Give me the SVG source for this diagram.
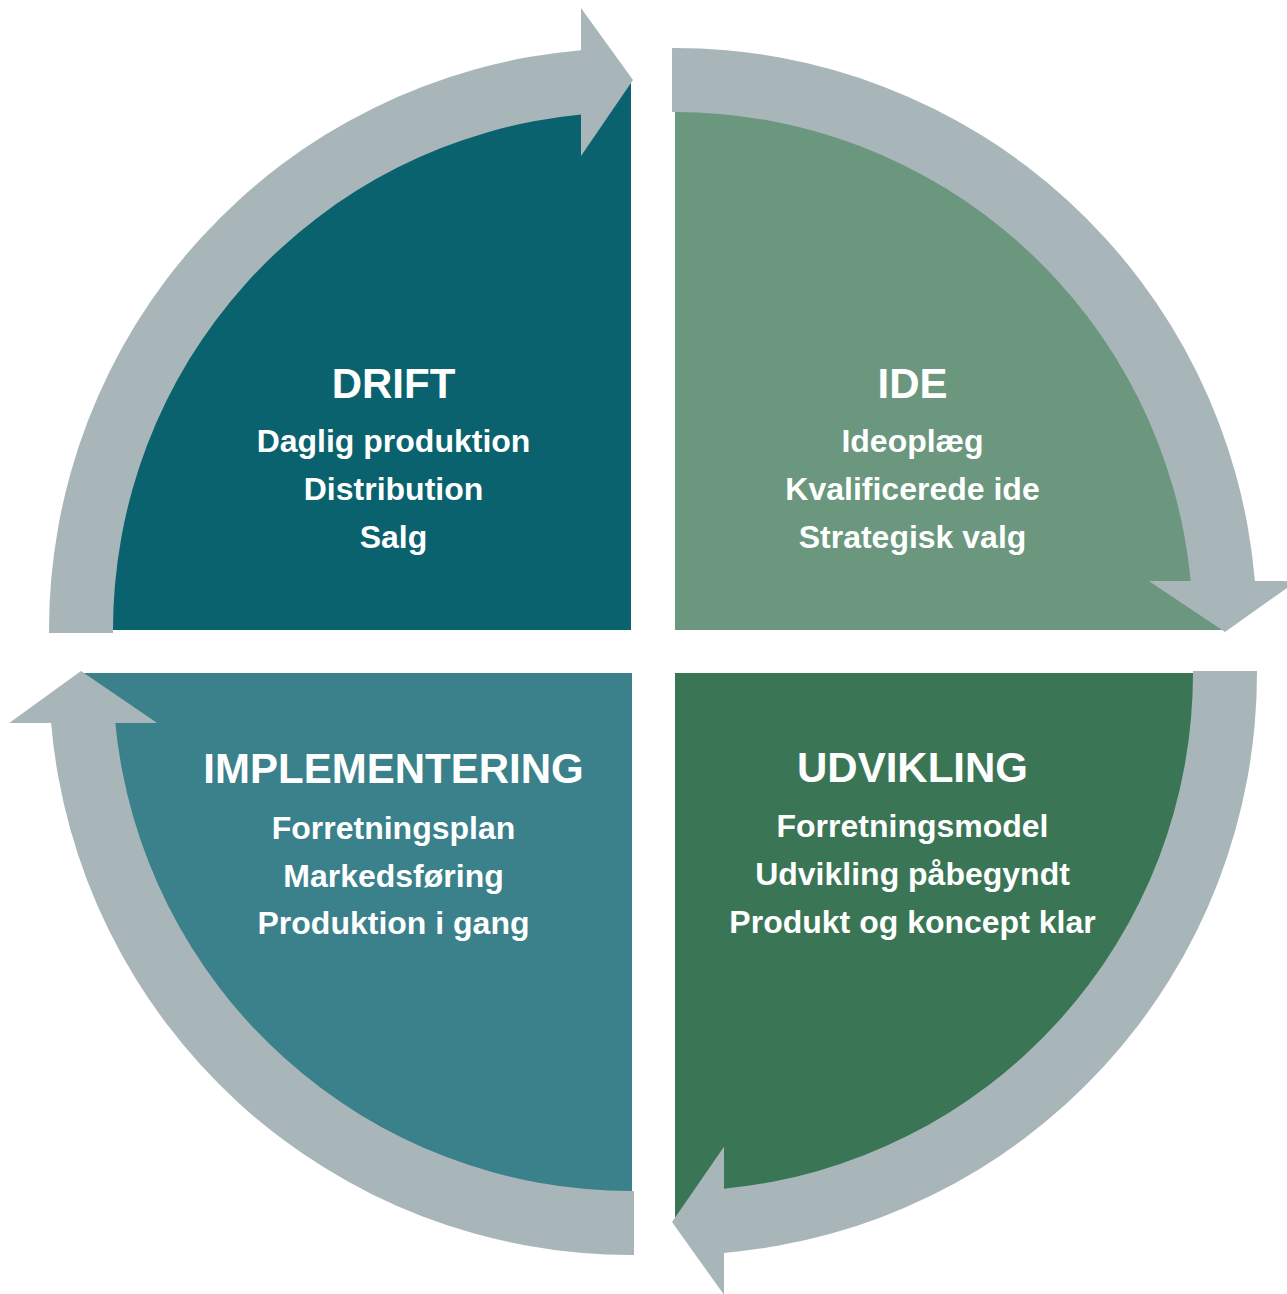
<svg xmlns="http://www.w3.org/2000/svg" width="1287" height="1294" viewBox="0 0 1287 1294">
<style>
.band{fill:#A9B6B9}
.t{font-family:"Liberation Sans",Arial,sans-serif;font-weight:bold;fill:#FFFFFF;text-anchor:middle}
.h{font-size:42px}
.s{font-size:32px}
</style>
<rect width="1287" height="1294" fill="#FFFFFF"/>
<g id="drift">
<path d="M631,630 L83,630 A548,548 0 0 1 631,82 Z" fill="#0A626E"/>
<text class="t h" x="393.5" y="398">DRIFT</text>
<text class="t s" x="393.5" y="452">Daglig produktion</text>
<text class="t s" x="393.5" y="500">Distribution</text>
<text class="t s" x="393.5" y="548">Salg</text>
</g>
<g id="ide">
<path d="M675,630 L675,82 A548,548 0 0 1 1223,630 Z" fill="#6A977E"/>
<text class="t h" x="912.5" y="398">IDE</text>
<text class="t s" x="912.5" y="452">Ideoplæg</text>
<text class="t s" x="912.5" y="500">Kvalificerede ide</text>
<text class="t s" x="912.5" y="548">Strategisk valg</text>
</g>
<g id="udvikling">
<path d="M675,673 L1223,673 A548,548 0 0 1 675,1221 Z" fill="#3A7656"/>
<text class="t h" x="912.5" y="782">UDVIKLING</text>
<text class="t s" x="912.5" y="837">Forretningsmodel</text>
<text class="t s" x="912.5" y="885">Udvikling påbegyndt</text>
<text class="t s" x="912.5" y="933">Produkt og koncept klar</text>
</g>
<g id="implementering">
<path d="M632,673 L632,1221 A548,548 0 0 1 84,673 Z" fill="#3A818B"/>
<text class="t h" x="393.5" y="783">IMPLEMENTERING</text>
<text class="t s" x="393.5" y="839">Forretningsplan</text>
<text class="t s" x="393.5" y="887">Markedsføring</text>
<text class="t s" x="393.5" y="934">Produktion i gang</text>
</g>
<g id="connectors">
<path class="band" d="M49,633 A582,582 0 0 1 581,50.2 L581,8 L633,80 L581,156 L581,114.4 A518,518 0 0 0 113,633 Z"/>
<path class="band" d="M672,48 A582,582 0 0 1 1254.9,581 L1296.8,581 L1225,632 L1148.8,581 L1190.7,581 A518,518 0 0 0 672,112 Z"/>
<path class="band" d="M1257,671 A582,582 0 0 1 724,1252.9 L724,1294.8 L672,1222 L724,1146.8 L724,1188.7 A518,518 0 0 0 1193,671 Z"/>
<path class="band" d="M634,1255 A582,582 0 0 1 51.1,723 L9.2,723 L81,671 L157.2,723 L115.3,723 A518,518 0 0 0 634,1191 Z"/>
</g>
</svg>
